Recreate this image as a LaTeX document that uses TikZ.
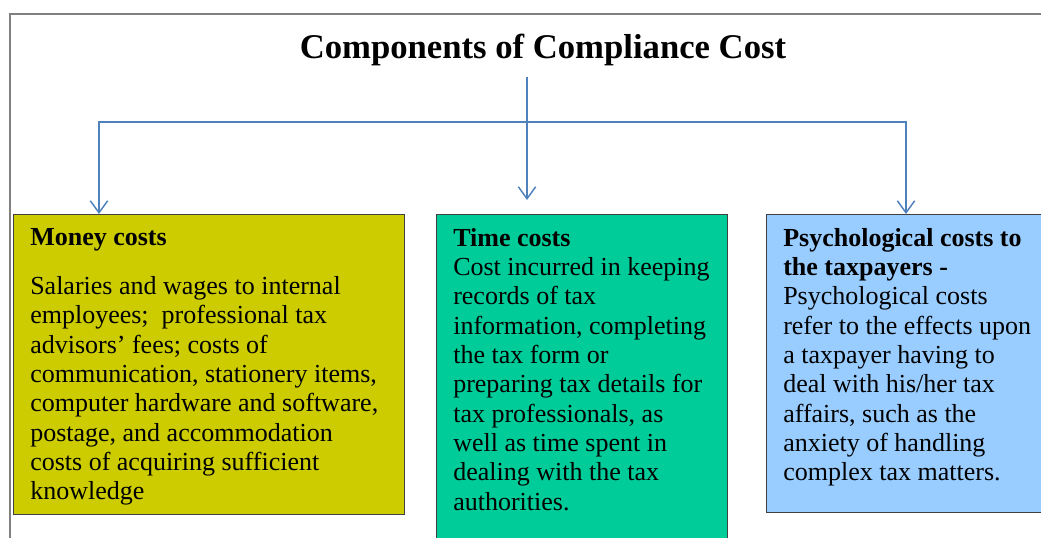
\documentclass[tikz,border=0pt]{standalone}
\usepackage{fontspec}
\setmainfont{Liberation Serif}
\usetikzlibrary{arrows.meta,positioning}
\definecolor{moneyfill}{RGB}{204,204,0}
\definecolor{timefill}{RGB}{0,204,153}
\definecolor{psychfill}{RGB}{153,204,255}
\definecolor{linkblue}{RGB}{79,129,189}
\tikzset{
    costbox/.style={draw=black!75, line width=1.1pt, anchor=north west, inner sep=0pt},
    costtext/.style={anchor=north west, align=left, inner sep=0pt, font=\fontsize{19.5pt}{22pt}\selectfont},
    heading/.style={font=\fontsize{26pt}{30pt}\selectfont\bfseries, inner sep=8.5pt},
    link/.style={draw=linkblue, line width=1.1pt, -{Straight Barb[length=9pt,width=13pt]}},
    frame/.style={draw=black!50, line width=1.5pt},
}

\begin{document}
\begin{tikzpicture}[x=0.75pt, y=-0.75pt]
    \useasboundingbox (0,0) rectangle (1041,537);
    \clip (0,0) rectangle (1041,537);

    % Outer frame
    \draw[frame] (10,14) rectangle (1070,570);

    % Title
    \node[heading, anchor=base] (title) at (543,58) {Components of Compliance Cost};
    \coordinate (hub) at (527,122);

    % Cost boxes
    \node[costbox, fill=moneyfill, minimum width=293.25pt, minimum height=225pt] (money) at (13,214) {};
    \node[costbox, fill=timefill, minimum width=218.25pt, minimum height=270pt] (time) at (436,214) {};
    \node[costbox, fill=psychfill, minimum width=240pt, minimum height=223.5pt] (psych) at (766,214) {};

    % Box texts
    \node[costtext] (moneytext) at (30,228) {\textbf{Money costs}\\[15pt]
        Salaries and wages to internal\\
        employees;~ professional tax\\
        advisors’ fees; costs of\\
        communication, stationery items,\\
        computer hardware and software,\\
        postage, and accommodation\\
        costs of acquiring sufficient\\
        knowledge};
    \node[costtext] (timetext) at (453,228) {\textbf{Time costs}\\
        Cost incurred in keeping\\
        records of tax\\
        information, completing\\
        the tax form or\\
        preparing tax details for\\
        tax professionals, as\\
        well as time spent in\\
        dealing with the tax\\
        authorities.};
    \node[costtext] (psychtext) at (783,228) {\textbf{Psychological costs to}\\
        \textbf{the taxpayers -}\\
        Psychological costs\\
        refer to the effects upon\\
        a taxpayer having to\\
        deal with his/her tax\\
        affairs, such as the\\
        anxiety of handling\\
        complex tax matters.};

    % Arrows
    \draw[link, shorten >=10.5pt] (title.south -| hub) -- (time.north -| hub);
    \draw[link] (hub) -| ([xshift=64.5pt]money.north west);
    \draw[link] (hub) -| ([xshift=105pt]psych.north west);
\end{tikzpicture}
\end{document}
